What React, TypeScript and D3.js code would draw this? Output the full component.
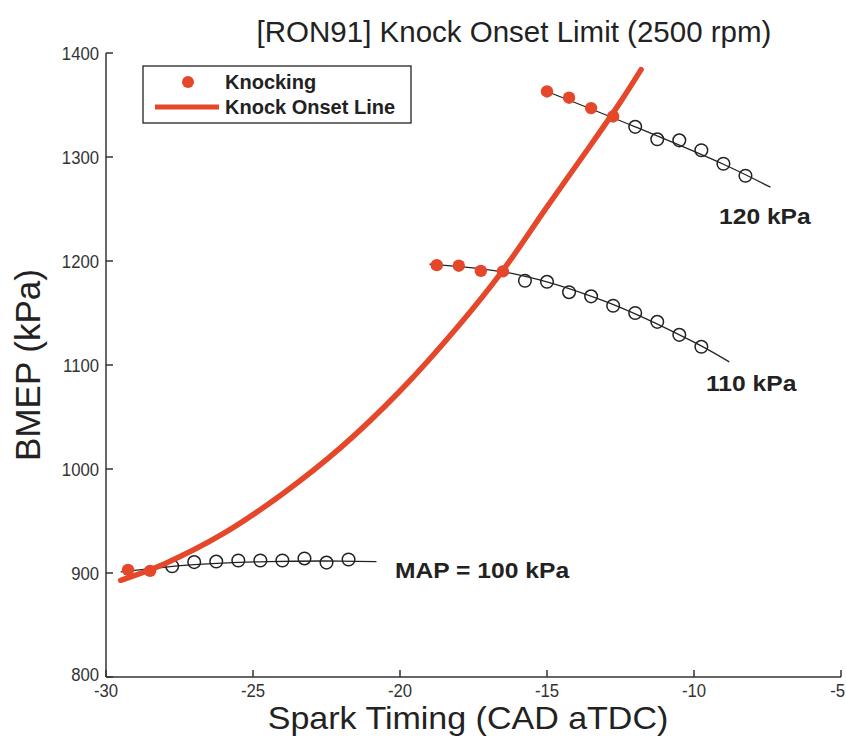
import React from "react";
import * as d3 from "d3";

const W = 846;
const H = 737;

const title = "[RON91] Knock Onset Limit (2500 rpm)";
const xLabel = "Spark Timing (CAD aTDC)";
const yLabel = "BMEP (kPa)";
const xTicks = [-30, -25, -20, -15, -10, -5];
const yTicks = [800, 900, 1000, 1100, 1200, 1300, 1400];

// MAP = 100 kPa
const s100KnockX = [-29.25, -28.5];
const s100KnockY = [903, 902];
const s100X = [-27.75, -27, -26.25, -25.5, -24.75, -24, -23.25, -22.5, -21.75];
const s100Y = [906.5, 910.5, 911, 912, 912, 912, 914, 910, 913];
const fit100X = [-29.5, -27, -24.5, -22, -20.8];
const fit100Y = [901, 908, 911, 911.5, 911];

// MAP = 110 kPa
const s110KnockX = [-18.75, -18, -17.25, -16.5];
const s110KnockY = [1196, 1195.5, 1190.5, 1190];
const s110X = [-15.75, -15, -14.25, -13.5, -12.75, -12, -11.25, -10.5, -9.75];
const s110Y = [1181, 1180, 1170, 1166, 1157, 1150, 1141.5, 1129, 1117.5];
const fit110X = [-19, -16, -13, -10, -8.8];
const fit110Y = [1197, 1187, 1161, 1122, 1103];

// MAP = 120 kPa
const s120KnockX = [-15, -14.25, -13.5, -12.75];
const s120KnockY = [1363, 1357, 1347, 1339];
const s120X = [-12, -11.25, -10.5, -9.75, -9, -8.25];
const s120Y = [1329, 1317, 1316, 1306.5, 1293.5, 1282];
const fit120X = [-15, -12, -9, -7.4];
const fit120Y = [1363, 1329, 1293, 1271];

// Knock onset line
const onsetX = [-29.5, -28, -26, -24, -22, -20, -18, -16.5, -15, -13.5, -12.5, -11.8];
const onsetY = [893, 909, 938, 976, 1021, 1075, 1138, 1191, 1252, 1312, 1353, 1384];

const RED = "#e5472a";

export default function App() {
  const x = d3.scaleLinear().domain([-30, -5]).range([106, 841]);
  const y = d3.scaleLinear().domain([800, 1400]).range([677, 53]);

  const zip = (xs: number[], ys: number[]) => xs.map((v, i) => [v, ys[i]] as [number, number]);
  const line = d3
    .line<[number, number]>()
    .x((d) => x(d[0]))
    .y((d) => y(d[1]))
    .curve(d3.curveCatmullRom.alpha(0.5));

  const mainFont = "'Liberation Sans', Arial, sans-serif";

  const fits = [zip(fit100X, fit100Y), zip(fit110X, fit110Y), zip(fit120X, fit120Y)];
  const opens = [zip(s100X, s100Y), zip(s110X, s110Y), zip(s120X, s120Y)].flat();
  const knocks = [zip(s100KnockX, s100KnockY), zip(s110KnockX, s110KnockY), zip(s120KnockX, s120KnockY)].flat();

  const tickText = (label: string, tx: number, ty: number, anchor: string, key: string) => (
    <text
      key={key}
      transform={`translate(${tx},${ty}) scale(0.88,1)`}
      textAnchor={anchor as any}
      fontFamily={mainFont}
      fontSize={19}
      fill="#333"
    >
      {label}
    </text>
  );

  const seriesLabel = (label: string, tx: number, ty: number) => (
    <text
      transform={`translate(${tx},${ty}) scale(1.12,1)`}
      fontFamily={mainFont}
      fontWeight="bold"
      fontSize={22}
      fill="#222"
    >
      {label}
    </text>
  );

  return (
    <div style={{ position: "absolute", left: 0, top: 0 }}>
      <svg width={W} height={H} style={{ display: "block", background: "#fff" }}>
        <rect width={W} height={H} fill="#fff" />
        {/* title */}
        <text x={514} y={42} textAnchor="middle" fontFamily={mainFont} fontSize={29.5} fill="#222">
          {title}
        </text>
        {/* axes */}
        <line x1={106} x2={106} y1={53} y2={677} stroke="#333" strokeWidth={1.5} />
        <line x1={106} x2={841} y1={677} y2={677} stroke="#333" strokeWidth={1.5} />
        {yTicks.map((t) => (
          <g key={"y" + t}>
            <line x1={106} x2={113} y1={y(t)} y2={y(t)} stroke="#333" strokeWidth={1.5} />
            {tickText(String(t), 99, t === 800 ? y(t) + 4 : y(t) + 7, "end", "yl" + t)}
          </g>
        ))}
        {xTicks.map((t, i) => (
          <g key={"x" + t}>
            <line x1={x(t)} x2={x(t)} y1={677} y2={670} stroke="#333" strokeWidth={1.5} />
            {i === xTicks.length - 1
              ? tickText(String(t), 845, 697, "end", "xl" + t)
              : tickText(String(t), x(t), 697, "middle", "xl" + t)}
          </g>
        ))}
        <text
          transform={`translate(468,729) scale(1.08,1)`}
          textAnchor="middle"
          fontFamily={mainFont}
          fontSize={31.5}
          fill="#222"
        >
          {xLabel}
        </text>
        <text
          transform={`translate(40,365) rotate(-90)`}
          textAnchor="middle"
          fontFamily={mainFont}
          fontSize={35}
          fill="#222"
        >
          {yLabel}
        </text>

        {/* fit lines */}
        {fits.map((f, i) => (
          <path key={"f" + i} d={line(f) || ""} fill="none" stroke="#222" strokeWidth={1.3} />
        ))}
        {/* open circles */}
        {opens.map((d, i) => (
          <circle key={"o" + i} cx={x(d[0])} cy={y(d[1])} r={6.3} fill="none" stroke="#222" strokeWidth={1.5} />
        ))}
        {/* knocking points */}
        {knocks.map((d, i) => (
          <circle key={"k" + i} cx={x(d[0])} cy={y(d[1])} r={6.2} fill={RED} />
        ))}
        {/* knock onset line */}
        <path
          d={line(zip(onsetX, onsetY)) || ""}
          fill="none"
          stroke={RED}
          strokeWidth={5.5}
          strokeLinecap="round"
        />

        {/* series labels */}
        {seriesLabel("120 kPa", 719, 224)}
        {seriesLabel("110 kPa", 706, 391)}
        {seriesLabel("MAP = 100 kPa", 395, 578)}

        {/* legend */}
        <rect x={143} y={66} width={268} height={57} fill="#fff" stroke="#222" strokeWidth={1.3} />
        <circle cx={188} cy={82} r={6} fill={RED} />
        <text x={225} y={89} fontFamily={mainFont} fontWeight="bold" fontSize={20} fill="#222">
          Knocking
        </text>
        <line x1={155} x2={219} y1={107} y2={107} stroke={RED} strokeWidth={5} />
        <text x={225} y={114} fontFamily={mainFont} fontWeight="bold" fontSize={20} fill="#222">
          Knock Onset Line
        </text>
      </svg>
    </div>
  );
}
